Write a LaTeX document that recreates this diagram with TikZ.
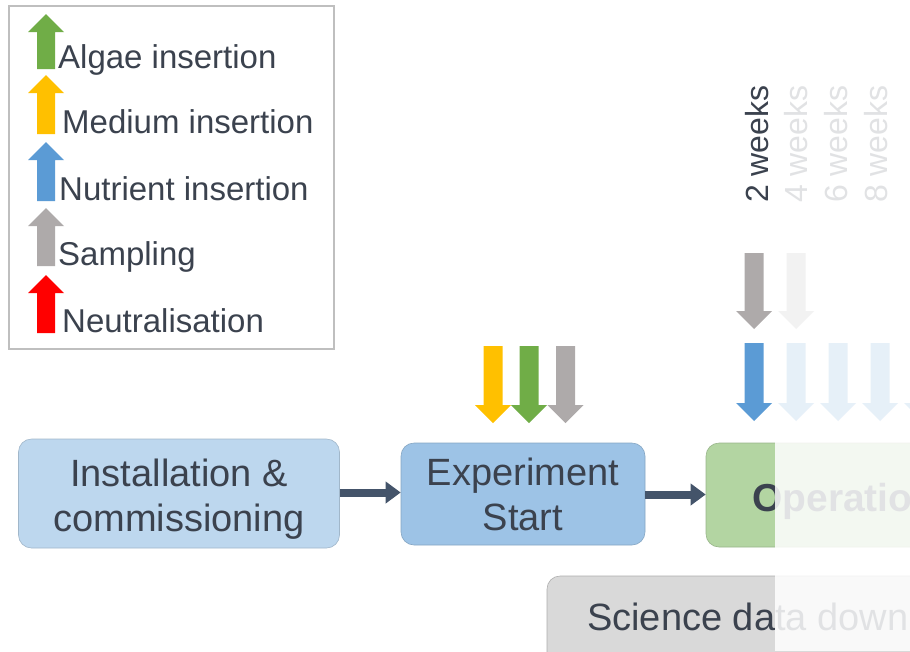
\documentclass[tikz,border=0pt]{standalone}
\usepackage{fontspec}
\setmainfont{Liberation Sans}
\usetikzlibrary{arrows.meta}
\definecolor{txt}{HTML}{3B424E}
\definecolor{conn}{HTML}{44546A}
\definecolor{agreen}{HTML}{70AD47}
\definecolor{ayellow}{HTML}{FFC000}
\definecolor{ablue}{HTML}{5B9BD5}
\definecolor{agrey}{HTML}{AEAAAA}
\definecolor{ared}{HTML}{FF0000}
\definecolor{boxa}{HTML}{BDD7EE}
\definecolor{boxb}{HTML}{9DC3E6}
\definecolor{boxc}{HTML}{B3D5A2}
\definecolor{boxd}{HTML}{D9D9D9}
\definecolor{legframe}{HTML}{BFBFBF}
\newcommand\uparr[4]{%
  \fill[#4] (#1-9,#3) -- (#1-9,#2+18) -- (#1-18,#2+18) -- (#1,#2) -- (#1+18,#2+18) -- (#1+9,#2+18) -- (#1+9,#3) -- cycle;}
\newcommand\dnarr[4]{%
  \fill[#4] (#1-9.5,#2) -- (#1+9.5,#2) -- (#1+9.5,#3-18) -- (#1+18,#3-18) -- (#1,#3) -- (#1-18,#3-18) -- (#1-9.5,#3-18) -- cycle;}
\tikzset{
  legtext/.style={anchor=base west, inner sep=0pt, text=txt, font=\fontsize{33}{38}\selectfont},
  stagebox/.style={rounded corners=13pt, inner sep=0pt, align=center, text=txt,
    font=\fontsize{38}{45}\selectfont},
  stagetext/.style={inner sep=0pt, align=center, text=txt, font=\fontsize{38}{45}\selectfont},
  connector/.style={draw=conn, line width=8pt, -{Triangle[length=15pt,width=21pt]}, shorten >=0pt},
  weektext/.style={anchor=base west, rotate=90, inner sep=0pt, text=txt, font=\fontsize{32}{38}\selectfont},
}
\begin{document}
\begin{tikzpicture}[x=1pt,y=-1pt]
\useasboundingbox (0,0) rectangle (910,651);
\clip (0,0) rectangle (910,651);
% legend
\draw[legframe, line width=2pt, fill=white] (9,6) rectangle (334,349);
\uparr{46}{14}{69}{agreen}
\uparr{46}{75}{134}{ayellow}
\uparr{46}{142}{201}{ablue}
\uparr{46}{208}{266}{agrey}
\uparr{46}{275}{333}{ared}
\node[legtext] (lg1) at (58,68) {Algae insertion};
\node[legtext] (lg2) at (62,133) {Medium insertion};
\node[legtext] (lg3) at (59,200) {Nutrient insertion};
\node[legtext] (lg4) at (58,265) {Sampling};
\node[legtext] (lg5) at (62,332) {Neutralisation};
% stage boxes
\node[stagebox, fill=boxa, draw=boxa!85!black, line width=0.6pt, minimum width=321pt, minimum height=109pt] (b1) at (179,493.5) {};
\node[stagetext, yshift=-6pt] (b1t) at (b1.center) {Installation \&\\commissioning};
\node[stagebox, fill=boxb, draw=boxb!85!black, line width=0.6pt, minimum width=244pt, minimum height=102pt] (b2) at (523,494) {Experiment\\Start};
\node[stagebox, fill=boxc, draw=boxc!85!black, line width=0.6pt, minimum width=400pt, minimum height=104pt] (b3) at (906,495) {};
\node[anchor=base west, inner sep=0pt, text=txt, font=\fontsize{39}{45}\selectfont\bfseries] (b3t) at (752,511) {Operation};
\node[stagebox, fill=boxd, draw=boxd!80!black, line width=0.6pt, minimum width=460pt, minimum height=120pt] (b4) at (777,636) {};
\node[anchor=base west, inner sep=0pt, text=txt, font=\fontsize{38}{45}\selectfont] (b4t) at (587,630) {Science data downlink};
% connectors
\draw[connector] (b1.east |- 0,492.5) -- (b2.west |- 0,492.5);
\draw[connector] (b2.east |- 0,494.5) -- (b3.west |- 0,494.5);
% arrows at experiment start
\dnarr{493}{346}{423}{ayellow}
\dnarr{529}{346}{423}{agreen}
\dnarr{565.5}{346}{423}{agrey}
% weeks
\node[weektext] (w2) at (768,203) {2 weeks};
\node[weektext] (w4) at (807,203) {4 weeks};
\node[weektext] (w6) at (847,203) {6 weeks};
\node[weektext] (w8) at (887,203) {8 weeks};
\dnarr{754}{253}{329}{agrey}
\dnarr{796}{253}{329}{agrey}
\dnarr{754}{343}{421}{ablue}
\dnarr{796}{343}{421}{ablue}
\dnarr{838}{343}{421}{ablue}
\dnarr{880}{343}{421}{ablue}
\dnarr{922}{343}{421}{ablue}
% fade overlay
\fill[white, opacity=0.85] (775,0) rectangle (910,651);
\end{tikzpicture}
\end{document}
